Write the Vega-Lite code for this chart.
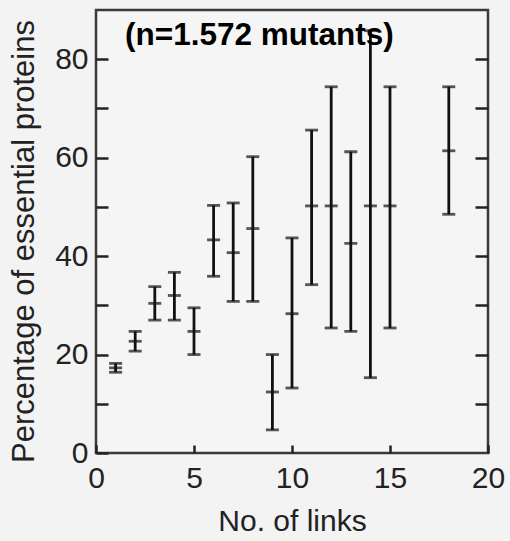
{
  "$schema": "https://vega.github.io/schema/vega-lite/v6.json",
  "autosize": "none",
  "width": 392,
  "height": 443,
  "padding": {"left": 96, "top": 10, "right": 22, "bottom": 88},
  "background": "#f3f3f3",
  "config": {
    "font": "Liberation Sans",
    "view": {"stroke": "#3a3a3a", "strokeWidth": 2.5, "fill": "#f5f5f5"}
  },
  "data": {
    "values": [
      {"links": 1, "mean": 17.3, "lo": 16.4, "hi": 18.2},
      {"links": 2, "mean": 22.7, "lo": 20.7, "hi": 24.7},
      {"links": 3, "mean": 30.4, "lo": 27.0, "hi": 33.8},
      {"links": 4, "mean": 32.0, "lo": 27.0, "hi": 36.7},
      {"links": 5, "mean": 24.7, "lo": 20.0, "hi": 29.5},
      {"links": 6, "mean": 43.3, "lo": 35.9, "hi": 50.3},
      {"links": 7, "mean": 40.7, "lo": 30.8, "hi": 50.8},
      {"links": 8, "mean": 45.6, "lo": 30.8, "hi": 60.2},
      {"links": 9, "mean": 12.4, "lo": 4.7, "hi": 20.0},
      {"links": 10, "mean": 28.3, "lo": 13.2, "hi": 43.7},
      {"links": 11, "mean": 50.2, "lo": 34.2, "hi": 65.6},
      {"links": 12, "mean": 50.2, "lo": 25.4, "hi": 74.4},
      {"links": 13, "mean": 42.6, "lo": 24.7, "hi": 61.2},
      {"links": 14, "mean": 50.2, "lo": 15.3, "hi": 85.8},
      {"links": 15, "mean": 50.2, "lo": 25.4, "hi": 74.4},
      {"links": 18, "mean": 61.4, "lo": 48.5, "hi": 74.4}
    ]
  },
  "encoding": {
    "x": {
      "field": "links",
      "type": "quantitative",
      "scale": {"domain": [0, 20], "nice": false, "zero": false},
      "axis": {
        "values": [0, 5, 10, 15, 20],
        "tickSize": -8,
        "tickWidth": 2.5,
        "tickColor": "#222",
        "domain": false,
        "grid": false,
        "labelFontSize": 30,
        "labelColor": "#222",
        "labelPadding": 18,
        "labelFlush": false,
        "title": "No. of links",
        "titleFontSize": 30,
        "titleFontWeight": "normal",
        "titleColor": "#222",
        "titleBaseline": "alphabetic",
        "titleY": 77
      }
    }
  },
  "layer": [
    {
      "mark": {"type": "rule", "color": "#111", "strokeWidth": 2.8},
      "encoding": {
        "y": {
          "field": "lo",
          "type": "quantitative",
          "scale": {"domain": [0, 90], "nice": false},
          "axis": {
            "orient": "left",
            "values": [0, 10, 20, 30, 40, 50, 60, 70, 80],
            "labelExpr": "datum.value % 20 == 0 ? datum.label : ''",
            "tickSize": -12,
            "tickWidth": 2.5,
            "tickColor": "#222",
            "domain": false,
            "grid": false,
            "labelFontSize": 30,
            "labelColor": "#222",
            "labelPadding": 20,
            "labelFlush": false,
            "title": "Percentage of essential proteins",
            "titleFontSize": 31,
            "titleFontWeight": "normal",
            "titleColor": "#222",
            "titleBaseline": "top",
            "titleX": -87,
            "titleY": 231
          }
        },
        "y2": {"field": "hi"}
      }
    },
    {
      "transform": [{"fold": ["lo", "hi", "mean"], "as": ["stat", "value"]}],
      "mark": {"type": "tick", "orient": "horizontal", "color": "#111", "size": 13, "thickness": 2.8},
      "encoding": {
        "y": {
          "field": "value",
          "type": "quantitative",
          "scale": {"domain": [0, 90], "nice": false},
          "axis": {
            "orient": "right",
            "values": [10, 20, 30, 40, 50, 60, 70, 80],
            "labels": false,
            "tickSize": -13,
            "tickWidth": 2.5,
            "tickColor": "#222",
            "domain": false,
            "grid": false,
            "title": null
          }
        }
      }
    },
    {
      "data": {"values": [{"label": "(n=1.572 mutants)", "lx": 1.48, "ly": 82.9}]},
      "mark": {"type": "text", "font": "Liberation Sans", "fontSize": 31.5, "fontWeight": "bold", "fill": "#000", "align": "left", "baseline": "alphabetic"},
      "encoding": {
        "text": {"field": "label"},
        "x": {"field": "lx", "type": "quantitative"},
        "y": {"field": "ly", "type": "quantitative", "axis": null, "scale": {"domain": [0, 90], "nice": false}}
      }
    }
  ],
  "resolve": {"axis": {"y": "independent"}}
}
